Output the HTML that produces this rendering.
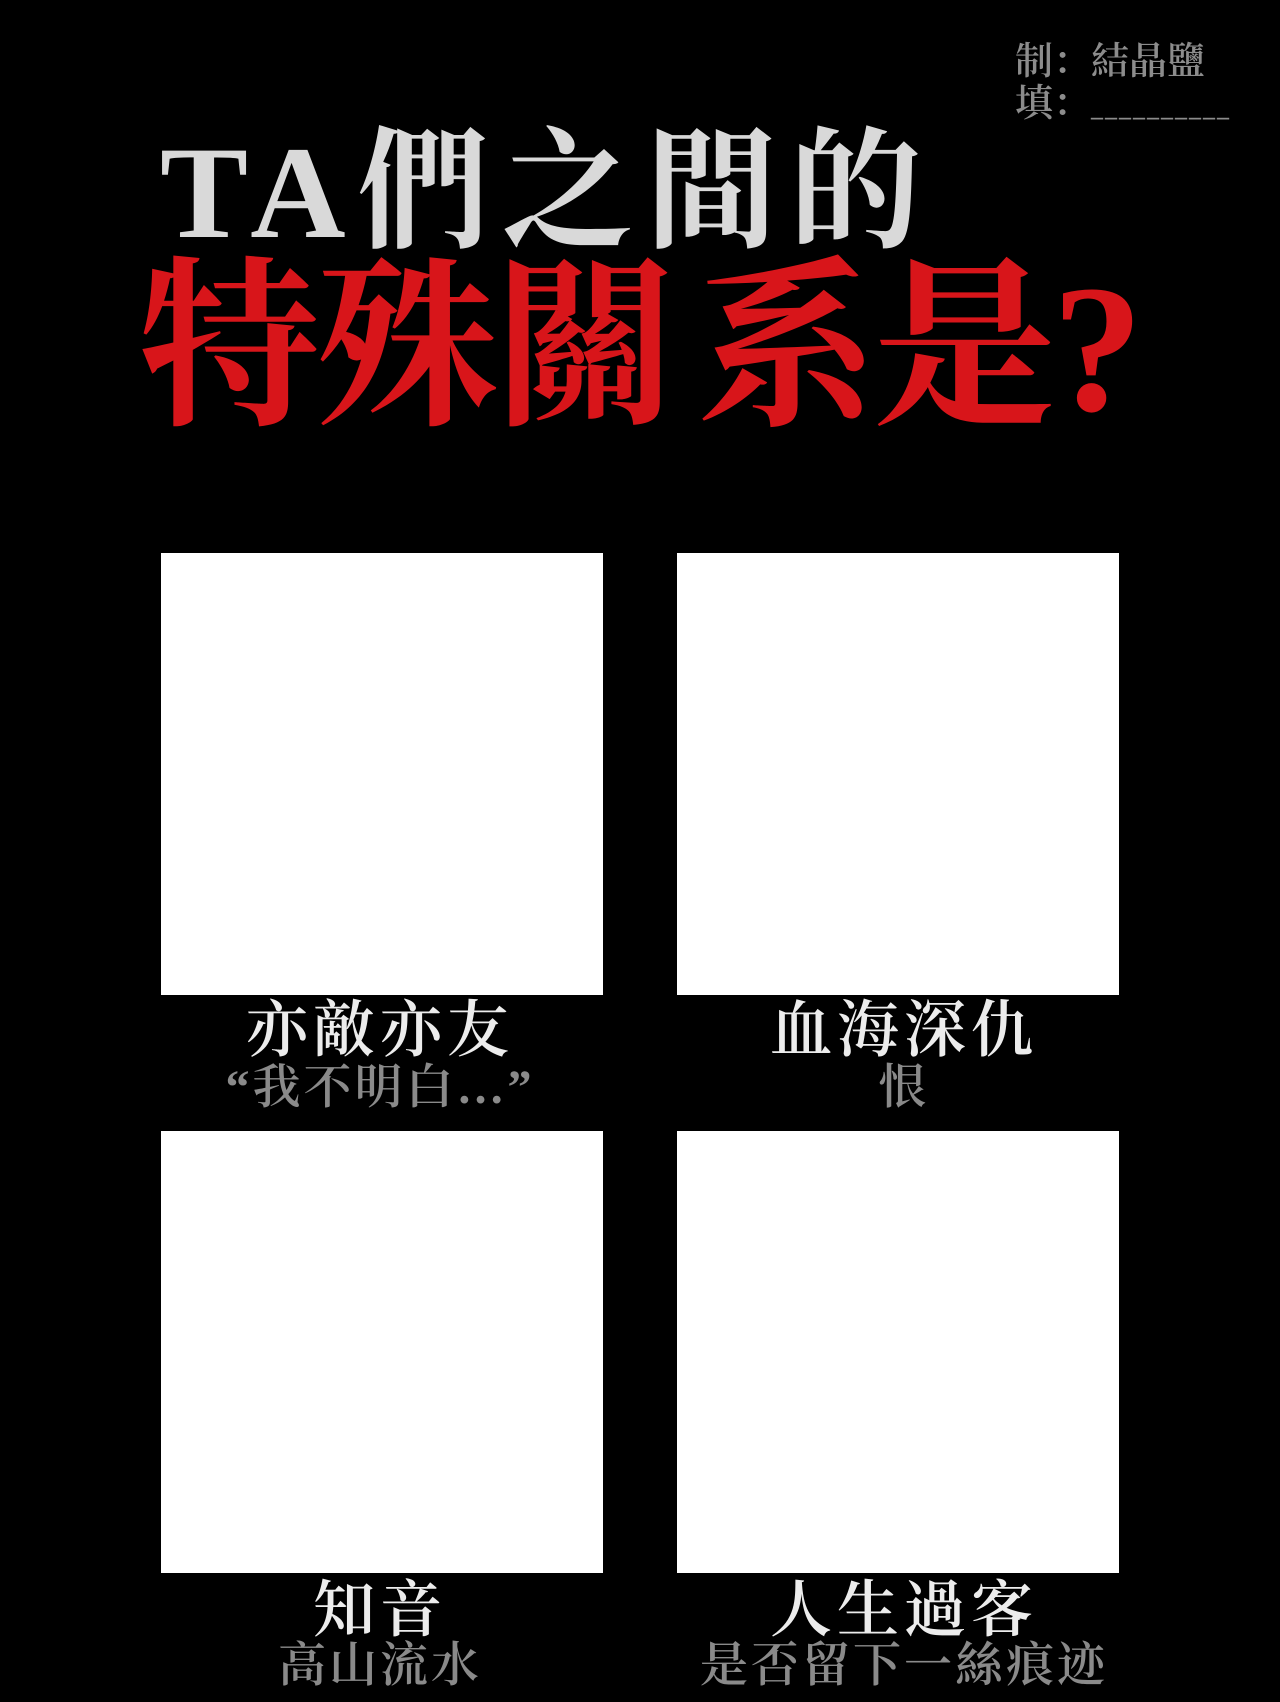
<!DOCTYPE html>
<html><head><meta charset="utf-8">
<style>
html,body{margin:0;padding:0;background:#000;}
body{width:1280px;height:1702px;position:relative;overflow:hidden;font-family:"Liberation Serif","Noto Serif CJK SC",serif;}
.abs{position:absolute;white-space:nowrap;}
.box{position:absolute;background:#fff;width:442px;height:442px;}
.lbl{position:absolute;width:600px;text-align:center;font-weight:600;}
.t{color:#ececec;font-size:62px;line-height:66px;letter-spacing:5px;}
.s{color:#8a8a8a;font-size:48px;line-height:52px;letter-spacing:3px;}
</style></head>
<body>
<div class="abs" style="left:1015px;top:30px;font-size:38px;color:#8c8c8c;font-weight:600;">制：結晶鹽</div>
<div class="abs" style="left:1015px;top:72px;font-size:38px;color:#8c8c8c;font-weight:600;">填：<span style="font-size:24px;letter-spacing:2px">__________</span></div>
<div class="abs" style="left:160px;top:118px;font-size:132px;line-height:150px;color:#d9d9d9;font-weight:bold;letter-spacing:12px;">TA們之間的</div>
<div class="abs" style="left:138px;top:250px;font-size:182px;line-height:200px;color:#d8151a;font-weight:bold;letter-spacing:-4px;">特殊關<span style="margin-left:24px"></span>系是?</div>

<div class="box" style="left:161px;top:553px;"></div>
<div class="box" style="left:677px;top:553px;"></div>
<div class="box" style="left:161px;top:1131px;"></div>
<div class="box" style="left:677px;top:1131px;"></div>

<div class="lbl t" style="left:80px;top:998px;">亦敵亦友</div>
<div class="lbl s" style="left:80px;top:1062px;">“我不明白…”</div>
<div class="lbl t" style="left:604px;top:998px;">血海深仇</div>
<div class="lbl s" style="left:604px;top:1062px;">恨</div>
<div class="lbl t" style="left:80px;top:1578px;">知音</div>
<div class="lbl s" style="left:80px;top:1640px;">高山流水</div>
<div class="lbl t" style="left:604px;top:1578px;">人生過客</div>
<div class="lbl s" style="left:604px;top:1640px;">是否留下一絲痕迹</div>
</body></html>
